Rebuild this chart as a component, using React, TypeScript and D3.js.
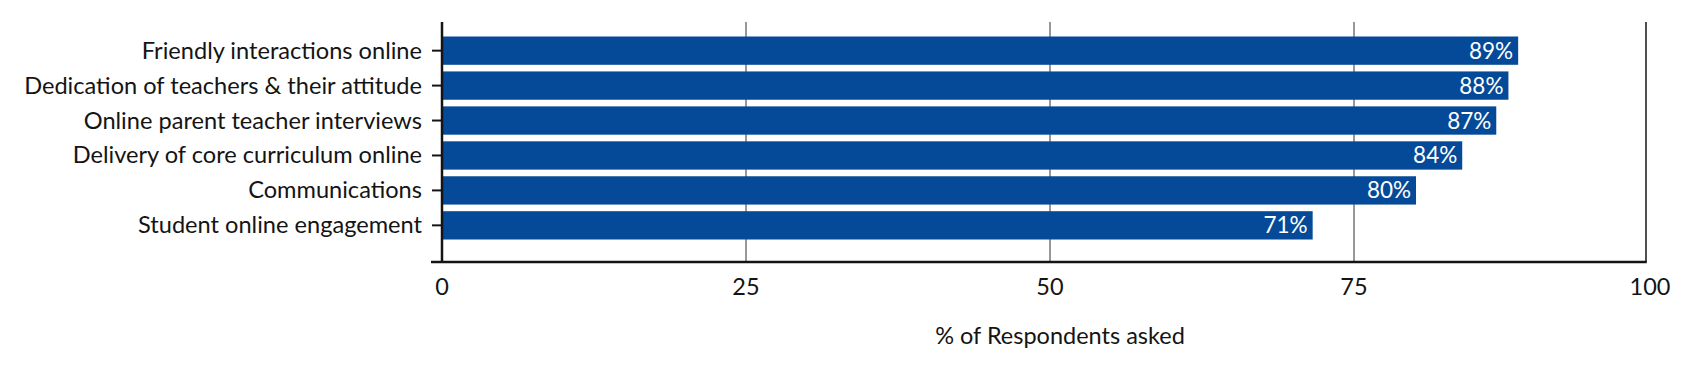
/*eslint-disable*/
import React, { useEffect, useRef } from 'react';
import * as d3 from 'd3';

const categories = [
  'Friendly interactions online',
  'Dedication of teachers & their attitude',
  'Online parent teacher interviews',
  'Delivery of core curriculum online',
  'Communications',
  'Student online engagement',
];
// bar lengths, labels as printed
const values = [88.5, 87.7, 86.7, 83.9, 80.1, 71.6];
const valueLabels = ['89%', '88%', '87%', '84%', '80%', '71%'];
const xTicks = [0, 25, 50, 75, 100];
const xTitle = '% of Respondents asked';

const App: React.FC = () => {
  const svgRef = useRef<SVGSVGElement>(null);

  useEffect(() => {
    const width = 1704;
    const height = 368;
    const left = 442;
    const right = 1646; // frame edge
    const top = 22;
    const bottom = 262;
    const font = 'Lato, "Open Sans", sans-serif';
    const ink = '#141414';

    const svg = d3.select(svgRef.current)
      .attr('width', width)
      .attr('height', height);
    svg.selectAll('*').remove();

    // the frame is a touch narrower than the scale's 100
    const x = d3.scaleLinear().domain([0, 100]).range([left, 1658]);
    const y = d3.scaleBand<string>()
      .domain(categories)
      .range([33, 243])
      .paddingInner(0.19)
      .paddingOuter(0.1);

    // gridlines
    svg.append('g')
      .selectAll('line')
      .data(xTicks.filter(t => t > 0 && t < 100))
      .enter()
      .append('line')
      .attr('x1', d => x(d))
      .attr('x2', d => x(d))
      .attr('y1', top)
      .attr('y2', bottom)
      .attr('stroke', '#333')
      .attr('stroke-width', 1);

    // bars
    svg.append('g')
      .selectAll('rect')
      .data(values)
      .enter()
      .append('rect')
      .attr('x', x(0))
      .attr('y', (d, i) => y(categories[i])!)
      .attr('width', d => x(d) - x(0))
      .attr('height', y.bandwidth())
      .attr('fill', '#044a98');

    // value labels
    svg.append('g')
      .selectAll('text')
      .data(values)
      .enter()
      .append('text')
      .attr('x', d => x(d) - 5)
      .attr('y', (d, i) => y(categories[i])! + y.bandwidth() / 2 + 8)
      .attr('text-anchor', 'end')
      .attr('fill', '#fff')
      .style('font-family', font)
      .style('font-size', '22.5px')
      .text((d, i) => valueLabels[i]);

    // frame: right edge and axes
    svg.append('line')
      .attr('x1', right).attr('x2', right)
      .attr('y1', top).attr('y2', bottom)
      .attr('stroke', ink).attr('stroke-width', 1.5);
    svg.append('line')
      .attr('x1', left).attr('x2', left)
      .attr('y1', top).attr('y2', bottom + 1)
      .attr('stroke', ink).attr('stroke-width', 2.5);
    svg.append('line')
      .attr('x1', left - 11).attr('x2', right + 0.75)
      .attr('y1', bottom).attr('y2', bottom)
      .attr('stroke', ink).attr('stroke-width', 2.5);

    // y ticks and labels
    const yg = svg.append('g');
    yg.selectAll('line')
      .data(categories)
      .enter()
      .append('line')
      .attr('x1', left - 10)
      .attr('x2', left)
      .attr('y1', d => y(d)! + y.bandwidth() / 2)
      .attr('y2', d => y(d)! + y.bandwidth() / 2)
      .attr('stroke', ink)
      .attr('stroke-width', 2);
    yg.selectAll('text')
      .data(categories)
      .enter()
      .append('text')
      .attr('x', 422)
      .attr('y', d => y(d)! + y.bandwidth() / 2 + 8)
      .attr('text-anchor', 'end')
      .attr('fill', ink)
      .style('font-family', font)
      .style('font-size', '23.6px')
      .text(d => d);

    // x tick labels
    svg.append('g')
      .selectAll('text')
      .data(xTicks)
      .enter()
      .append('text')
      .attr('x', d => (d === 100 ? right + 4 : x(d)))
      .attr('y', 295)
      .attr('text-anchor', 'middle')
      .attr('fill', ink)
      .style('font-family', font)
      .style('font-size', '23.5px')
      .text(d => d);

    // axis title
    svg.append('text')
      .attr('x', 1060)
      .attr('y', 344)
      .attr('text-anchor', 'middle')
      .attr('fill', ink)
      .style('font-family', font)
      .style('font-size', '23.5px')
      .text(xTitle);
  }, []);

  return <svg ref={svgRef} style={{ position: 'absolute', left: 0, top: 0 }}></svg>;
};

export default App;
